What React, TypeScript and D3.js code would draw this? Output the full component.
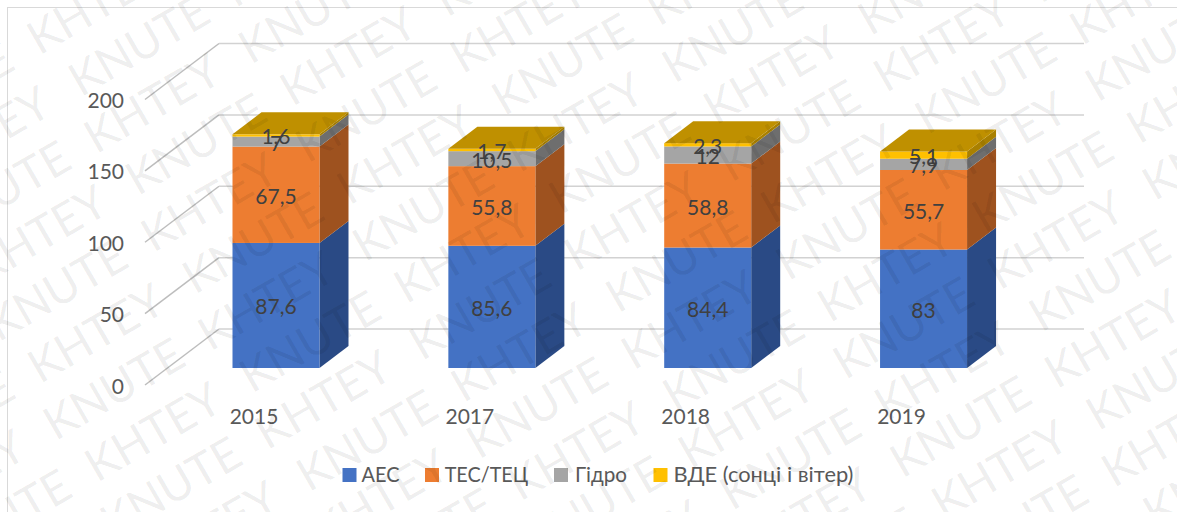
import React from "react";
import * as d3 from "d3";

const categories = ["2015", "2017", "2018", "2019"];
const seriesNames = ["АЕС", "ТЕС/ТЕЦ", "Гідро", "ВДЕ (сонці і вітер)"];
const aes = [87.6, 85.6, 84.4, 83];
const tes = [67.5, 55.8, 58.8, 55.7];
const hydro = [7, 10.5, 12, 7.9];
const vde = [1.6, 1.7, 2.3, 5.1];
const yTicks = [0, 50, 100, 150, 200];
const front = ["#4472C4", "#ED7D31", "#A5A5A5", "#FFC000"];
const side = ["#2A4A85", "#9E521F", "#6E6E6E", "#A98000"];
const topFace = "#BF9000";
const wmWords = ["KHTEY", "KNUTE"];

const W = 1177, H = 512;
const depthX = 29, depthY = 22;
const bw = 87;
const y = d3.scaleLinear().domain([0, 200]).range([368, 82.5]);
const x = d3.scaleBand<string>().domain(categories).range([232.5, 232.5 + 863.4]).paddingInner(0);
const fmt = (v: number) => String(v).replace(".", ",");
const series = [aes, tes, hydro, vde];
const FONT = "Lato, 'Open Sans', sans-serif";

const legendIcon = [342.5, 425, 554, 653.5];
const legendText = [361.5, 444.7, 575, 673.4];
const legendLen = [38, 83.5, 52, 180];

const ANG = 30;
const cosA = Math.cos((ANG * Math.PI) / 180);
const sinA = Math.sin((ANG * Math.PI) / 180);

function Watermark() {
  const items: { u: number; v: number; word: string; key: string }[] = [];
  d3.range(-8, 16).forEach((r) => {
    d3.range(-6, 14).forEach((c) => {
      const u = -157.5 + c * 178.6 + (r % 2 !== 0 ? -15 : 0);
      const v = 466.8 + r * 57;
      // screen position of the word's start and end
      const sx = u * cosA + v * sinA;
      const sy = -u * sinA + v * cosA;
      const ex = sx + 150 * cosA;
      const ey = sy - 150 * sinA;
      const minX = Math.min(sx, ex) - 40, maxX = Math.max(sx, ex) + 40;
      const minY = Math.min(sy, ey) - 40, maxY = Math.max(sy, ey) + 40;
      if (maxX < 0 || minX > W || maxY < 0 || minY > H) return;
      items.push({ u, v, word: wmWords[(((r + c) % 2) + 2) % 2], key: r + "_" + c });
    });
  });
  return (
    <g fill="#000" fillOpacity={0.075} fontFamily={FONT} fontSize={46} transform={`rotate(${-ANG})`} style={{ pointerEvents: "none" }}>
      {items.map((it) => (
        <text key={it.key} x={it.u} y={it.v}>{it.word}</text>
      ))}
    </g>
  );
}

export default function App() {
  return (
    <svg width={W} height={H} style={{ position: "absolute", left: 0, top: 0, background: "#fff" }} fontFamily={FONT}>
      <rect x={7.5} y={7.5} width={W} height={H} fill="none" stroke="#D9D9D9" />
      {yTicks.map((t) => {
        const yb = y(t) - 39;
        return (
          <g key={t} strokeWidth={1.5} fill="none">
            <path d={`M145,${yb + 56}L219,${yb}`} stroke="#BDBDBD" />
            <path d={`M219,${yb}L1084,${yb}`} stroke="#D2D2D2" />
          </g>
        );
      })}
      {yTicks.map((t) => (
        <text key={t} x={124} y={y(t) + 25.5} textAnchor="end" fontSize={21} fill="#595959">{t}</text>
      ))}
      {categories.map((c) => {
        const i = categories.indexOf(c);
        const x0 = x(c) as number;
        let acc = 0;
        const segs = series.map((s, k) => {
          const y0 = y(acc);
          acc += s[i];
          return { k, v: s[i], y0, y1: y(acc) };
        });
        const last = segs[segs.length - 1];
        return (
          <g key={c}>
            {segs.map((g) => (
              <g key={g.k}>
                <polygon fill={side[g.k]} points={`${x0 + bw},${g.y0} ${x0 + bw + depthX},${g.y0 - depthY} ${x0 + bw + depthX},${g.y1 - depthY} ${x0 + bw},${g.y1}`} />
                <rect x={x0} y={g.y1} width={bw} height={g.y0 - g.y1} fill={front[g.k]} />
              </g>
            ))}
            <polygon fill={topFace} points={`${x0},${last.y1} ${x0 + depthX},${last.y1 - depthY} ${x0 + bw + depthX},${last.y1 - depthY} ${x0 + bw},${last.y1}`} />
            {segs.map((g) => (
              <text key={g.k} x={x0 + 43.5} y={(g.y0 + g.y1) / 2 + 9} textAnchor="middle" fontSize={21} fill="#404040">{fmt(g.v)}</text>
            ))}
            <text x={x0 + 21.5} y={424} textAnchor="middle" fontSize={21} fill="#595959">{c}</text>
          </g>
        );
      })}
      <g fontSize={21} fill="#595959">
        {seriesNames.map((n, k) => (
          <g key={n}>
            <rect x={legendIcon[k]} y={468} width={14} height={14} fill={front[k]} />
            <text x={legendText[k]} y={482} textLength={legendLen[k]} lengthAdjust="spacingAndGlyphs">{n}</text>
          </g>
        ))}
      </g>
      <Watermark />
    </svg>
  );
}
